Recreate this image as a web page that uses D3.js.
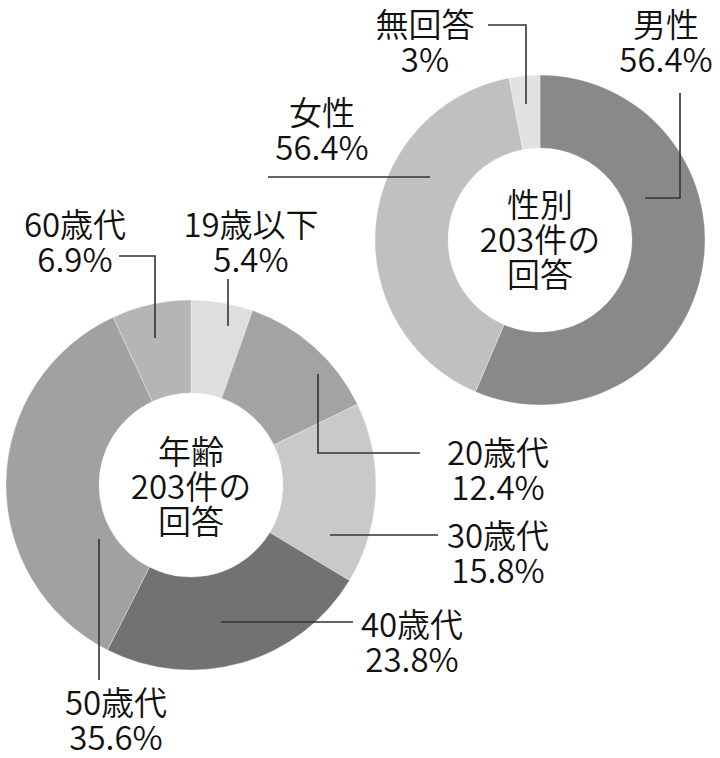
<!DOCTYPE html>
<html>
<head>
<meta charset="utf-8">
<script src="https://cdn.jsdelivr.net/npm/d3@7"></script>
<style>
  html, body { margin: 0; padding: 0; background: #ffffff; }
  svg { display: block; }
  text { font-family: "Noto Sans CJK JP", "Noto Sans", sans-serif; font-weight: 350; fill: #111; }
</style>
</head>
<body>
<svg id="chart" width="720" height="758"></svg>
<script>
// ---- Data ----
const genderCategories = ["男性", "女性", "無回答"];
const genderValues = [56.4, 40.6, 3];
const genderLabels = ["56.4%", "56.4%", "3%"];   // as printed in the source
const genderColors = ["#898989", "#c0c0c0", "#e2e2e2"];
const genderTitle = ["性別", "203件の", "回答"];

const ageCategories = ["19歳以下", "20歳代", "30歳代", "40歳代", "50歳代", "60歳代"];
const ageValues = [5.4, 12.4, 15.8, 23.8, 35.6, 6.9];
const ageLabels = ["5.4%", "12.4%", "15.8%", "23.8%", "35.6%", "6.9%"];
const ageColors = ["#dedede", "#a3a3a3", "#c9c9c9", "#727272", "#a1a1a1", "#b5b5b5"];
const ageTitle = ["年齢", "203件の", "回答"];

// ---- Layout (positions only) ----
const FS = 33, LH = 35;
const genderLayout = {
  cx: 540, cy: 240, R: 165, r: 92,
  titleY: 252,
  labels: [
    { x: 666, y: 72,  leader: [[680, 93], [680, 198], [645, 198]] },
    { x: 322, y: 160, leader: [[268, 177], [430, 177]] },
    { x: 425, y: 72,  leader: [[488, 25], [526, 25], [526, 104]] }
  ]
};
const ageLayout = {
  cx: 191, cy: 485, R: 185, r: 92,
  titleY: 499,
  labels: [
    { x: 251, y: 272, leader: [[228, 279], [228, 326]] },
    { x: 498, y: 500, leader: [[318, 374], [318, 453], [420, 453]] },
    { x: 498, y: 583, leader: [[330, 535], [438, 535]] },
    { x: 412, y: 672, leader: [[221, 622], [353, 622]] },
    { x: 116, y: 750, leader: [[99, 539], [99, 680]] },
    { x: 75,  y: 272, leader: [[119, 256], [155, 256], [155, 338]] }
  ]
};

const svg = d3.select("#chart");

function donut(categories, values, labels, colors, title, L) {
  const g = svg.append("g");
  const pie = d3.pie().sort(null).value(d => d)(values);
  const arc = d3.arc().innerRadius(L.r).outerRadius(L.R);
  const color = d3.scaleOrdinal().domain(categories).range(colors);

  const ring = g.append("g").attr("transform", `translate(${L.cx},${L.cy})`);
  ring.selectAll("path").data(pie).join("path")
    .attr("d", arc)
    .attr("fill", (d, i) => color(categories[i]))
    .attr("stroke", "#ffffff")
    .attr("stroke-width", 0.6)
    .attr("stroke-opacity", 0.5);

  // center title
  g.selectAll("text.title").data(title).join("text")
    .attr("class", "title")
    .attr("text-anchor", "middle")
    .attr("font-size", FS)
    .attr("x", L.cx)
    .attr("y", (d, i) => L.titleY + (i - 1) * LH)
    .text(d => d);

  // leader lines
  const line = d3.line();
  g.selectAll("path.leader").data(L.labels).join("path")
    .attr("class", "leader")
    .attr("d", d => line(d.leader))
    .attr("fill", "none")
    .attr("stroke", "#333")
    .attr("stroke-width", 1.6);

  // labels: category name line and percentage line
  g.selectAll("text.cat").data(categories).join("text")
    .attr("class", "cat")
    .attr("text-anchor", "middle")
    .attr("font-size", FS)
    .attr("x", (d, i) => L.labels[i].x)
    .attr("y", (d, i) => L.labels[i].y - LH)
    .text(d => d);
  g.selectAll("text.pct").data(labels).join("text")
    .attr("class", "pct")
    .attr("text-anchor", "middle")
    .attr("font-size", FS)
    .attr("x", (d, i) => L.labels[i].x)
    .attr("y", (d, i) => L.labels[i].y)
    .text(d => d);
}

donut(genderCategories, genderValues, genderLabels, genderColors, genderTitle, genderLayout);
donut(ageCategories, ageValues, ageLabels, ageColors, ageTitle, ageLayout);
</script>
</body>
</html>
